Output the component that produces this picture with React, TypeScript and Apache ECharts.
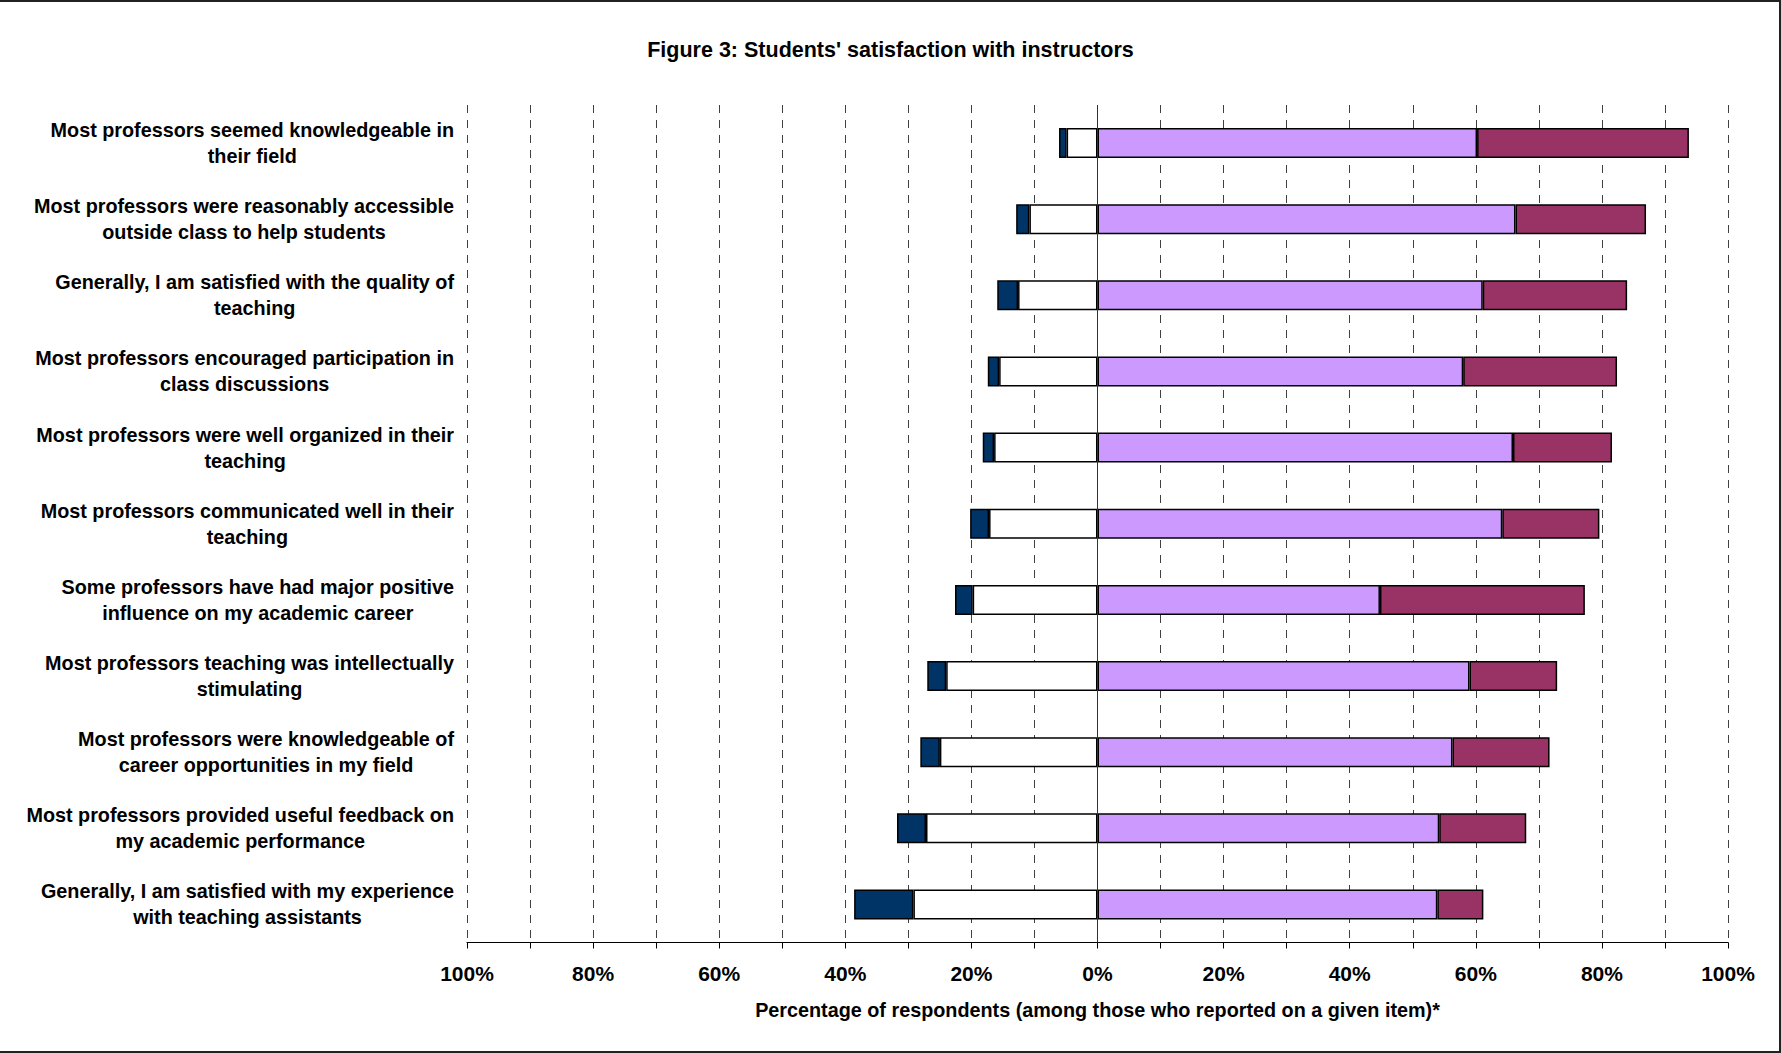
import React, { useEffect, useRef } from "react";
import * as echarts from "echarts";

// Survey items, listed top to bottom
const categories: string[] = [
  "Most professors seemed knowledgeable in\ntheir field",
  "Most professors were reasonably accessible\noutside class to help students",
  "Generally, I am satisfied with the quality of\nteaching",
  "Most professors encouraged participation in\nclass discussions",
  "Most professors were well organized in their\nteaching",
  "Most professors communicated well in their\nteaching",
  "Some professors have had major positive\ninfluence on my academic career",
  "Most professors teaching was intellectually\nstimulating",
  "Most professors were knowledgeable of\ncareer opportunities in my field",
  "Most professors provided useful feedback on\nmy academic performance",
  "Generally, I am satisfied with my experience\nwith teaching assistants",
];

// Percentages of respondents per item (same order as categories)
const stronglyDisagree: number[] = [1.2, 2.1, 3.3, 1.8, 1.8, 3.0, 2.8, 3.0, 3.1, 4.6, 9.4];
const disagree: number[] = [4.9, 10.8, 12.6, 15.6, 16.4, 17.2, 19.8, 24.0, 25.0, 27.2, 29.2];
const agree: number[] = [60.2, 66.3, 61.1, 58.0, 65.9, 64.2, 44.8, 59.0, 56.3, 54.2, 53.9];
const stronglyAgree: number[] = [33.6, 20.7, 22.9, 24.4, 15.7, 15.4, 32.5, 13.9, 15.4, 13.8, 7.3];

const titleText = "Figure 3: Students' satisfaction with instructors";
const axisTitle = "Percentage of respondents (among those who reported on a given item)*";

const FONT = "'Liberation Sans', Arial, Helvetica, sans-serif";

export default function App() {
  const ref = useRef<HTMLDivElement>(null);

  useEffect(() => {
    document.body.style.margin = "0";
    if (!ref.current) return;
    const chart = echarts.init(ref.current, undefined, { renderer: "svg" });

    const barBorder = { borderColor: "#000", borderWidth: 1.5 };

    chart.setOption({
      animation: false,
      backgroundColor: "#fff",
      title: {
        text: titleText,
        left: "center",
        top: 34,
        textStyle: { fontFamily: FONT, fontSize: 21.5, fontWeight: "bold", color: "#000" },
      },
      graphic: [
        {
          type: "rect",
          shape: { x: -2, y: 1, width: 1782, height: 1051 },
          style: { fill: "none", stroke: "#222", lineWidth: 2 },
          silent: true,
          z: 100,
        },
      ],
      grid: { left: 467, right: 53, top: 105, bottom: 110.5 },
      xAxis: {
        type: "value",
        min: -100,
        max: 100,
        interval: 10,
        axisLine: { show: true, lineStyle: { color: "#000", width: 1 } },
        axisTick: { show: true, length: 6, lineStyle: { color: "#000" } },
        splitLine: {
          show: true,
          lineStyle: { color: "#404040", type: [8, 7], width: 1 },
        },
        axisLabel: {
          margin: 20,
          fontFamily: FONT,
          fontSize: 21,
          fontWeight: "bold",
          color: "#000",
          formatter: (v: number) => {
            const r = Math.round(v);
            return r % 20 === 0 ? Math.abs(r) + "%" : "";
          },
        },
        name: axisTitle,
        nameLocation: "middle",
        nameGap: 57,
        nameTextStyle: { fontFamily: FONT, fontSize: 19.8, fontWeight: "bold", color: "#000" },
      },
      yAxis: {
        type: "category",
        data: categories,
        inverse: true,
        axisLine: { show: false },
        axisTick: { show: false },
        splitLine: { show: false },
        axisLabel: {
          align: "right",
          margin: 13,
          formatter: (v: string) =>
            v
              .split("\n")
              .map((l) => `{c|${l}}`)
              .join("\n"),
          rich: {
            c: {
              align: "center",
              fontFamily: FONT,
              fontSize: 19.8,
              fontWeight: "bold",
              lineHeight: 26,
              color: "#000",
            },
          },
        },
      },
      series: [
        {
          name: "Disagree",
          type: "bar",
          stack: "total",
          barWidth: 30,
          // negative side of the diverging bar
          data: disagree.map((v) => -v),
          itemStyle: { color: "#ffffff", ...barBorder },
          markLine: {
            silent: true,
            symbol: "none",
            label: { show: false },
            lineStyle: { color: "#333", type: "solid", width: 1 },
            data: [{ xAxis: 0 }],
            z: 10,
          },
        },
        {
          name: "Strongly disagree",
          type: "bar",
          stack: "total",
          barWidth: 30,
          data: stronglyDisagree.map((v) => -v),
          itemStyle: { color: "#003366", ...barBorder },
        },
        {
          name: "Agree",
          type: "bar",
          stack: "total",
          barWidth: 30,
          data: agree,
          itemStyle: { color: "#cc99ff", ...barBorder },
        },
        {
          name: "Strongly agree",
          type: "bar",
          stack: "total",
          barWidth: 30,
          data: stronglyAgree,
          itemStyle: { color: "#993366", ...barBorder },
        },
      ],
    });

    return () => {
      chart.dispose();
    };
  }, []);

  return <div ref={ref} style={{ width: 1781, height: 1053 }} />;
}
